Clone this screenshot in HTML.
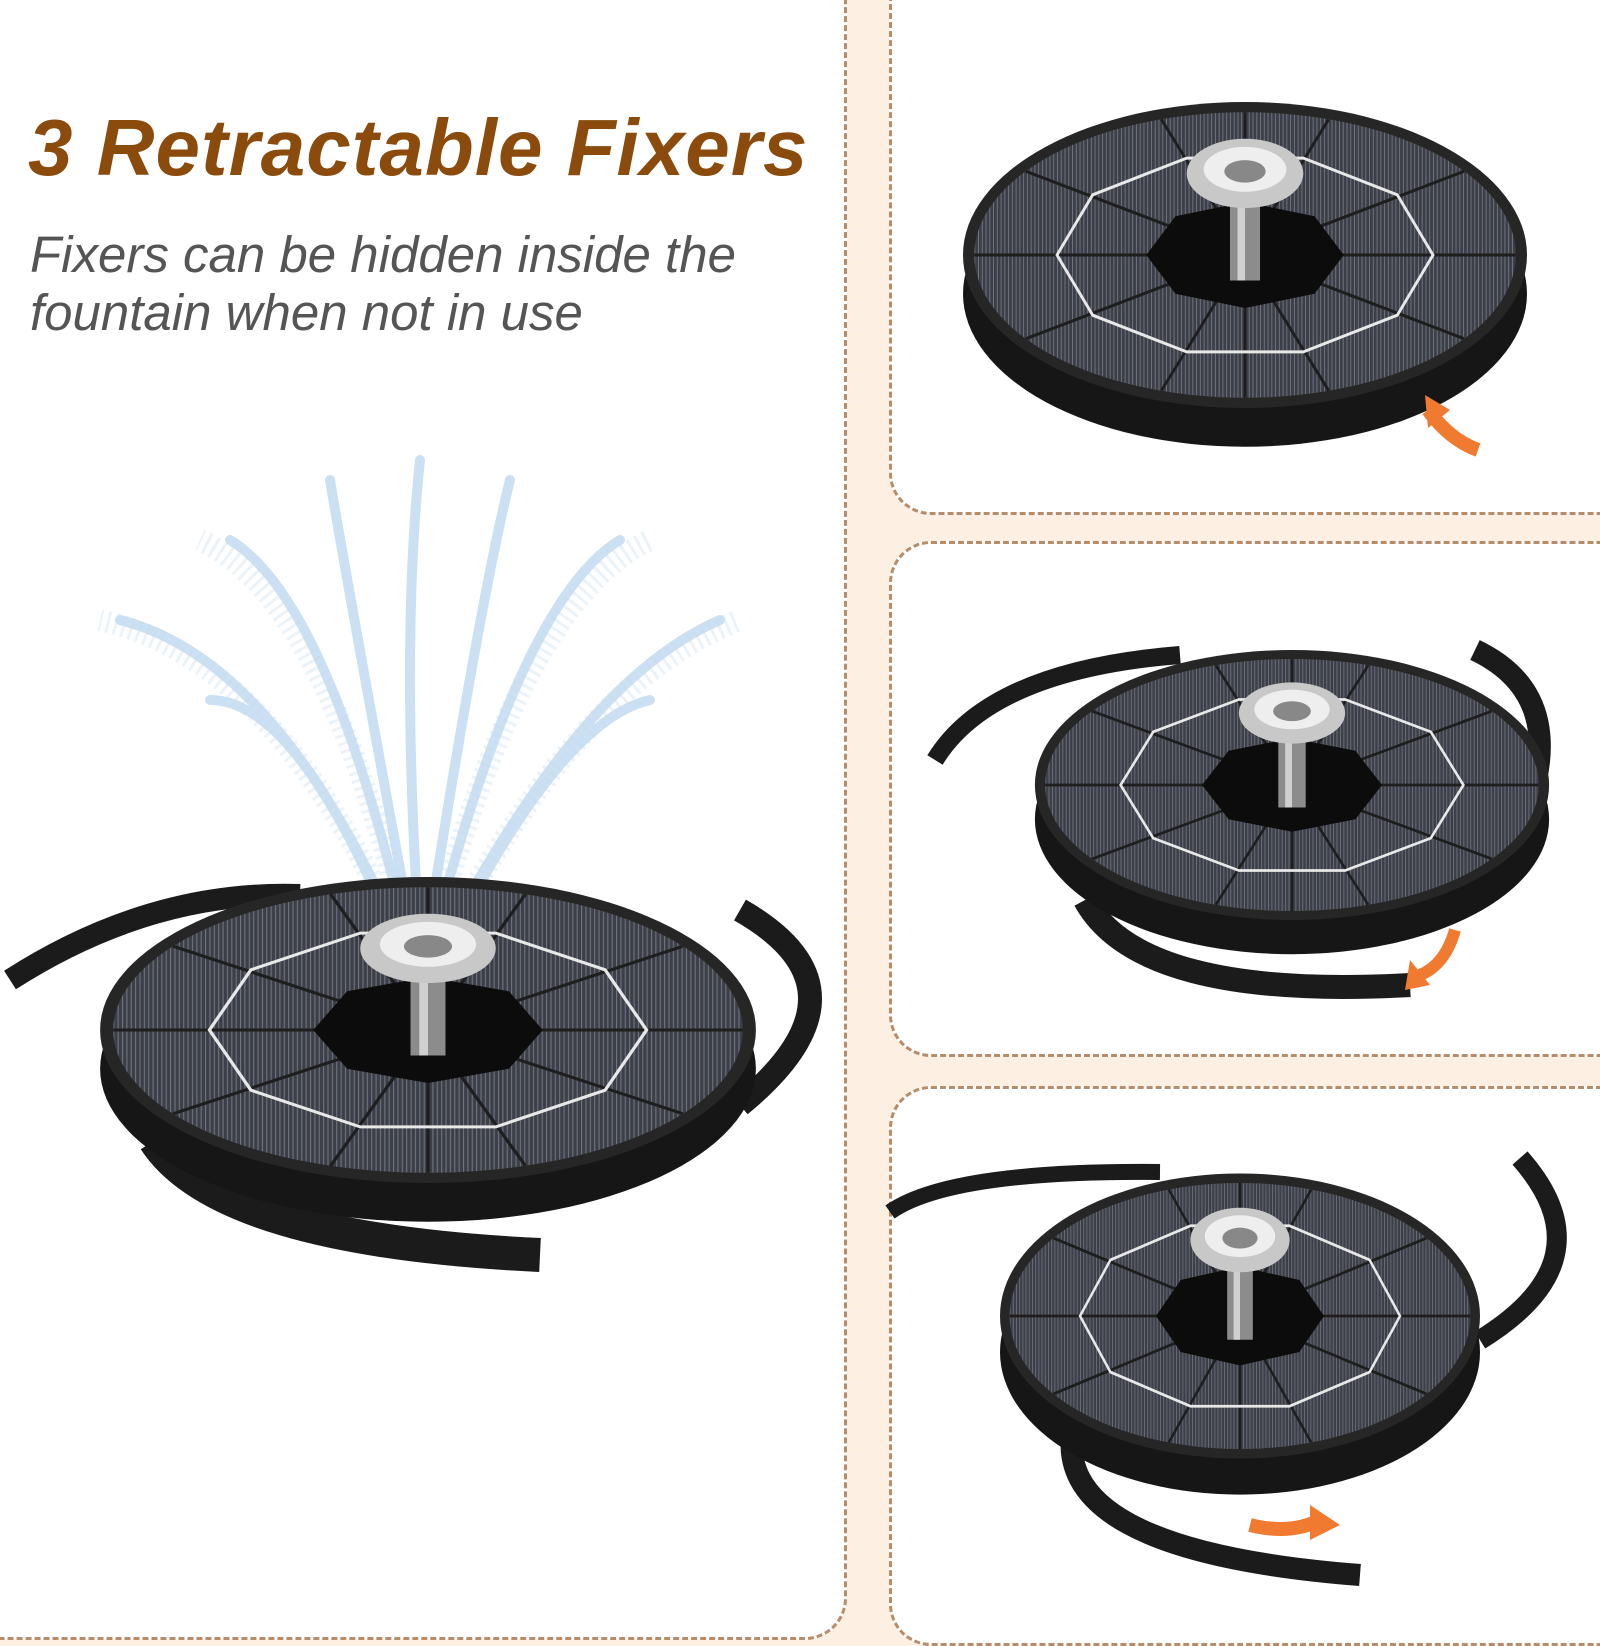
<!DOCTYPE html>
<html><head><meta charset="utf-8"><style>
html,body{margin:0;padding:0;width:1600px;height:1600px;overflow:hidden;background:#fdf0e2;}
.p{position:absolute;background:#fff;border:3px dashed #b88c68;border-radius:42px;box-sizing:border-box;}
h1{position:absolute;left:28px;top:102px;margin:0;font:italic bold 80px "Liberation Sans",sans-serif;color:#8a4b0c;letter-spacing:1px;}
.sub{position:absolute;left:30px;top:226px;font:italic 51px/58px "Liberation Sans",sans-serif;color:#555;}
svg{position:absolute;left:0;top:0;}
</style></head><body>
<div class="p" style="left:-40px;top:-40px;width:887px;height:1680px;"></div>
<div class="p" style="left:889px;top:-40px;width:760px;height:555px;"></div>
<div class="p" style="left:889px;top:541px;width:760px;height:516px;"></div>
<div class="p" style="left:889px;top:1086px;width:760px;height:560px;"></div>
<h1>3 Retractable Fixers</h1>
<div class="sub">Fixers can be hidden inside the<br>fountain when not in use</div>
<svg width="1600" height="1600" viewBox="0 0 1600 1600">
<defs>
<pattern id="st" width="4" height="4" patternUnits="userSpaceOnUse"><rect width="4" height="4" fill="#3c3f47"/><rect width="1" height="4" fill="#70747d"/></pattern>
<g id="f">
<ellipse cx="0" cy="38" rx="300" ry="150" fill="#161616"/>
<ellipse cx="0" cy="0" rx="300" ry="150" fill="#262626"/>
<ellipse cx="0" cy="0" rx="288" ry="140" fill="url(#st)"/>
<g stroke="#1e1e1e" stroke-width="3">
<line x1="0" y1="0" x2="288" y2="0"/><line x1="0" y1="0" x2="-288" y2="0"/>
<line x1="0" y1="0" x2="0" y2="140"/><line x1="0" y1="0" x2="0" y2="-140"/>
<line x1="0" y1="0" x2="233" y2="82"/><line x1="0" y1="0" x2="-233" y2="82"/>
<line x1="0" y1="0" x2="233" y2="-82"/><line x1="0" y1="0" x2="-233" y2="-82"/>
<line x1="0" y1="0" x2="89" y2="133"/><line x1="0" y1="0" x2="-89" y2="133"/>
<line x1="0" y1="0" x2="89" y2="-133"/><line x1="0" y1="0" x2="-89" y2="-133"/>
</g>
<polygon points="200,0 162,59 62,95 -62,95 -162,59 -200,0 -162,-59 -62,-95 62,-95 162,-59" fill="none" stroke="#e8e8e8" stroke-width="3"/>
<polygon points="105,0 74,38 0,52 -74,38 -105,0 -74,-38 0,-52 74,-38" fill="#0c0c0c"/>
<rect x="-16" y="-65" width="32" height="90" fill="#8c8c8c"/>
<rect x="-8" y="-65" width="8" height="90" fill="#d0d0d0"/>
<ellipse cx="0" cy="-80" rx="62" ry="34" fill="#c8c8c8"/>
<ellipse cx="0" cy="-84" rx="44" ry="22" fill="#eee"/>
<ellipse cx="0" cy="-82" rx="22" ry="11" fill="#888"/>
</g>
</defs>
<path d="M10 980 Q150 890 300 895" stroke="#1b1b1b" stroke-width="22" fill="none"/>
<path d="M740 910 Q880 990 740 1105" stroke="#1b1b1b" stroke-width="24" fill="none"/>
<path d="M155 1140 Q220 1240 540 1255" stroke="#1b1b1b" stroke-width="34" fill="none"/>
<g stroke="#a9cdea" stroke-width="10" fill="none" opacity="0.6" stroke-linecap="round">
<path d="M420 950 Q400 650 420 460"/><path d="M410 950 Q330 600 230 540"/><path d="M430 950 Q520 600 620 540"/>
<path d="M405 950 Q280 660 120 620"/><path d="M440 950 Q580 680 720 620"/><path d="M400 950 Q300 700 210 700"/>
<path d="M445 950 Q560 720 650 700"/><path d="M415 950 Q350 600 330 480"/><path d="M425 950 Q480 600 510 480"/>
</g>
<g stroke="#c7dff0" stroke-width="22" fill="none" opacity="0.35" stroke-dasharray="3 5">
<path d="M410 950 Q330 600 200 540"/><path d="M430 950 Q520 600 650 540"/>
<path d="M405 950 Q280 660 100 620"/><path d="M440 950 Q580 680 740 620"/>
</g>
<use href="#f" transform="translate(428,1030) scale(1.093,1.02)"/>
<use href="#f" transform="translate(1245,255) scale(0.94,1.02)"/>
<path d="M1428 410 Q1450 440 1478 450" stroke="#f07a30" stroke-width="14" fill="none"/>
<polygon points="1425,395 1450,410 1428,428" fill="#f07a30"/>
<path d="M935 760 Q990 670 1180 655" stroke="#1b1b1b" stroke-width="18" fill="none"/>
<path d="M1475 650 Q1580 700 1515 840" stroke="#1b1b1b" stroke-width="22" fill="none"/>
<path d="M1085 900 Q1140 1000 1410 985" stroke="#1b1b1b" stroke-width="24" fill="none"/>
<use href="#f" transform="translate(1292,785) scale(0.857,0.9)"/>
<path d="M1455 930 Q1445 965 1420 975" stroke="#f07a30" stroke-width="12" fill="none"/>
<polygon points="1410,960 1430,985 1405,990" fill="#f07a30"/>
<path d="M890 1212 Q950 1170 1160 1172" stroke="#1b1b1b" stroke-width="16" fill="none"/>
<path d="M1520 1158 Q1610 1260 1480 1340" stroke="#1b1b1b" stroke-width="20" fill="none"/>
<path d="M1075 1420 Q1040 1550 1360 1575" stroke="#1b1b1b" stroke-width="22" fill="none"/>
<use href="#f" transform="translate(1240,1316) scale(0.8,0.95)"/>
<path d="M1250 1525 Q1290 1535 1320 1520" stroke="#f07a30" stroke-width="14" fill="none"/>
<polygon points="1310,1505 1340,1525 1310,1540" fill="#f07a30"/>
</svg>
</body></html>
